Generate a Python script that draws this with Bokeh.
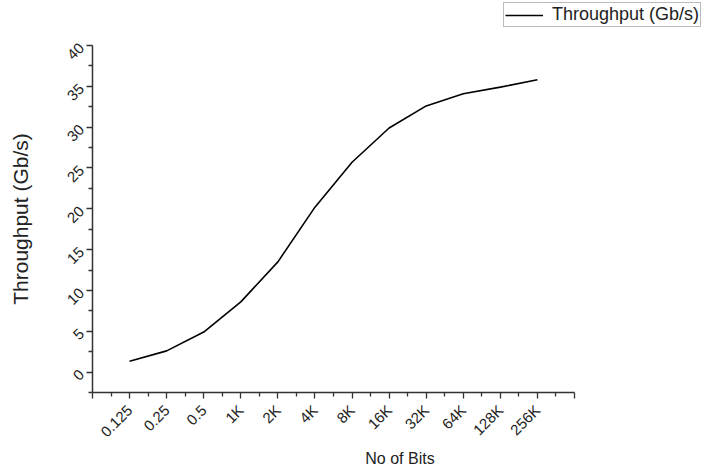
import math
from bokeh.plotting import figure
from bokeh.layouts import column
from bokeh.models import FixedTicker, Range1d, Legend, LegendItem
from bokeh.embed import file_html
from bokeh.resources import INLINE

categories = ["0.125", "0.25", "0.5", "1K", "2K", "4K", "8K", "16K", "32K", "64K", "128K", "256K"]
throughput = [1.33, 2.6, 4.9, 8.6, 13.5, 20.2, 25.7, 29.9, 32.6, 34.1, 34.9, 35.8]
y_ticks = [0, 5, 10, 15, 20, 25, 30, 35, 40]
series_name = "Throughput (Gb/s)"

xs = list(range(1, len(categories) + 1))
n_axis = len(categories) + 1

frame_left, axis_right, canvas_w = 92, 574, 707
x_max = n_axis * (canvas_w - frame_left) / (axis_right - frame_left)

# --- legend strip on top (frame aligned with the main chart) ---
lg = figure(width=canvas_w, height=30, output_backend="svg", toolbar_location=None,
            x_axis_type=None, y_axis_type=None, x_range=Range1d(0, 1), y_range=Range1d(0, 1),
            min_border_left=frame_left, min_border_right=0, min_border_top=0, min_border_bottom=0)
lg.outline_line_color = None
lg.xgrid.visible = False
lg.ygrid.visible = False
# legend proxy: same series, drawn outside this strip's visible range
lr = lg.line(x=[-10 - v for v in xs], y=throughput, line_color="black", line_width=1.6)
legend = Legend(items=[LegendItem(label=series_name, renderers=[lr])],
                location=(503 - frame_left, 3), border_line_color="#777777", border_line_width=1,
                label_text_font="Liberation Sans", label_text_font_size="18px",
                label_text_color="#222222", padding=1, margin=0, spacing=0,
                glyph_width=38, glyph_height=18, label_standoff=9, label_height=18)
lg.add_layout(legend)

# --- main chart ---
p = figure(width=canvas_w, height=440, output_backend="svg", toolbar_location=None,
           x_range=Range1d(0, x_max), y_range=Range1d(-2.5, 40),
           min_border_left=frame_left, min_border_right=0, min_border_top=15, min_border_bottom=74)
p.outline_line_color = None
p.xgrid.visible = False
p.ygrid.visible = False

p.line(xs, throughput, line_color="black", line_width=1.6)

xt = list(range(0, n_axis + 1))
p.xaxis.ticker = FixedTicker(ticks=xt, minor_ticks=[t + 0.5 for t in xt[:-1]])
p.xaxis.bounds = (0, n_axis)
overrides = {i: "" for i in xt}
for i, c in zip(xs, categories):
    overrides[i] = c
p.xaxis.major_label_overrides = overrides
p.yaxis.ticker = FixedTicker(ticks=y_ticks, minor_ticks=[-2.5] + [t + 2.5 for t in y_ticks[:-1]])

for ax in (p.xaxis[0], p.yaxis[0]):
    ax.major_label_orientation = math.pi / 4
    ax.axis_line_color = "#333333"
    ax.axis_line_width = 1.5
    ax.major_tick_line_color = "#333333"
    ax.minor_tick_line_color = "#333333"
    ax.major_tick_line_width = 1.3
    ax.minor_tick_line_width = 1.3
    ax.major_tick_in = 0
    ax.major_tick_out = 6
    ax.minor_tick_in = 0
    ax.minor_tick_out = 4
    ax.major_label_text_font = "Liberation Sans"
    ax.major_label_text_font_size = "15px"
    ax.major_label_text_color = "#222222"
    ax.axis_label_text_font = "Liberation Sans"
    ax.axis_label_text_font_style = "normal"
    ax.axis_label_text_color = "#222222"

p.xaxis.axis_label = "No of Bits"
p.yaxis.axis_label = series_name
p.xaxis.axis_label_text_font_size = "16px"
p.yaxis.axis_label_text_font_size = "21px"
p.xaxis.major_label_standoff = 9
p.xaxis.axis_label_standoff = 1
p.yaxis.major_label_standoff = 5
p.yaxis.axis_label_standoff = 28

layout = column(lg, p, spacing=0)
open("out.html", "w").write(file_html(layout, INLINE))
